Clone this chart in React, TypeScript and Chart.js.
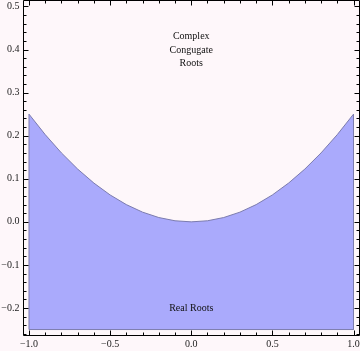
import React, { useEffect, useRef } from "react";
import { Chart, registerables } from "chart.js";

Chart.register(...registerables);

const curveX = [-1, -0.9, -0.8, -0.7, -0.6, -0.5, -0.4, -0.3, -0.2, -0.1, 0, 0.1, 0.2, 0.3, 0.4, 0.5, 0.6, 0.7, 0.8, 0.9, 1];
const curveY = [0.25, 0.2025, 0.16, 0.1225, 0.09, 0.0625, 0.04, 0.0225, 0.01, 0.0025, 0, 0.0025, 0.01, 0.0225, 0.04, 0.0625, 0.09, 0.1225, 0.16, 0.2025, 0.25];
const regionBottom = -0.25;

const xTickValues = [-1, -0.5, 0, 0.5, 1];
const yTickValues = [-0.2, -0.1, 0, 0.1, 0.2, 0.3, 0.4, 0.5];
const xMinorStep = 0.1;
const yMinorStep = 0.02;

const topLabelLines = ["Complex", "Congugate", "Roots"];
const topLabelX = 0;
const topLabelY = [0.43, 0.399, 0.367];
const bottomLabel = "Real Roots";
const bottomLabelX = 0;
const bottomLabelY = -0.202;

const fmt = (v: number) => {
  const s = Math.abs(v) < 1e-9 ? "0.0" : v.toFixed(1);
  return s.replace("-", "\u2212");
};

export default function App() {
  const ref = useRef<HTMLCanvasElement | null>(null);
  useEffect(() => {
    if (!ref.current) return;
    const polygon = [
      { x: curveX[0], y: regionBottom },
      ...curveX.map((x, i) => ({ x, y: curveY[i] })),
      { x: curveX[curveX.length - 1], y: regionBottom },
      { x: curveX[0], y: regionBottom },
    ];

    const bgPlugin = {
      id: "bg",
      beforeDraw(chart: any) {
        const c = chart.ctx;
        c.save();
        c.fillStyle = "#fef7fa";
        c.fillRect(0, 0, chart.width, chart.height);
        c.restore();
      },
    };

    const framePlugin = {
      id: "frame",
      afterDatasetsDraw(chart: any) {
        const c = chart.ctx;
        const a = chart.chartArea;
        const xs = chart.scales.x;
        const ys = chart.scales.y;
        const L = Math.round(a.left) + 0.5;
        const R = Math.round(a.right) - 0.5;
        const T = Math.round(a.top) + 0.5;
        const B = Math.round(a.bottom) - 0.5;
        c.save();
        c.strokeStyle = "#000";
        c.lineWidth = 1;
        c.beginPath();
        c.rect(L, T, R - L, B - T);
        for (let v = -1; v <= 1.0001; v += xMinorStep) {
          const vv = Math.round(v * 10) / 10;
          const major = xTickValues.some((t) => Math.abs(t - vv) < 1e-6);
          const len = major ? 5 : 3;
          const px = Math.round(xs.getPixelForValue(vv)) + 0.5;
          c.moveTo(px, B);
          c.lineTo(px, B - len);
          c.moveTo(px, T);
          c.lineTo(px, T + len);
        }
        for (let v = -0.26; v <= 0.5001; v += yMinorStep) {
          const vv = Math.round(v * 100) / 100;
          const major = yTickValues.some((t) => Math.abs(t - vv) < 1e-6);
          const len = major ? 5 : 3;
          const py = Math.round(ys.getPixelForValue(vv)) + 0.5;
          c.moveTo(L, py);
          c.lineTo(L + len, py);
          c.moveTo(R, py);
          c.lineTo(R - len, py);
        }
        c.stroke();

        c.fillStyle = "#111";
        c.font = "10px 'Liberation Serif', 'Times New Roman', serif";
        c.textAlign = "center";
        c.textBaseline = "middle";
        topLabelLines.forEach((t, i) => {
          c.fillText(t, xs.getPixelForValue(topLabelX), ys.getPixelForValue(topLabelY[i]));
        });
        c.fillText(bottomLabel, xs.getPixelForValue(bottomLabelX), ys.getPixelForValue(bottomLabelY));
        c.restore();
      },
    };

    const chart = new Chart(ref.current, {
      type: "scatter",
      data: {
        datasets: [
          {
            data: polygon,
            showLine: true,
            fill: "shape",
            backgroundColor: "rgb(170,170,252)",
            borderColor: "#7c7cae",
            borderWidth: 1,
            pointRadius: 0,
            tension: 0,
          } as any,
        ],
      },
      options: {
        animation: false,
        responsive: true,
        maintainAspectRatio: false,
        layout: { padding: 0 },
        plugins: { legend: { display: false }, tooltip: { enabled: false } },
        scales: {
          x: {
            type: "linear",
            min: -1.04,
            max: 1.04,
            grid: { display: false, drawTicks: false },
            border: { display: false },
            afterBuildTicks: (s: any) => {
              s.ticks = xTickValues.map((v) => ({ value: v }));
            },
            afterFit: (s: any) => {
              s.height = 15;
              s.paddingLeft = 0;
              s.paddingRight = 0;
              s.paddingTop = 0;
              s.paddingBottom = 0;
            },
            ticks: {
              padding: 2,
              color: "#222",
              maxRotation: 0,
              autoSkip: false,
              font: { family: "'Liberation Serif', 'Times New Roman', serif", size: 10 },
              callback: (v: any) => fmt(Number(v)),
            },
          },
          y: {
            type: "linear",
            min: -0.265,
            max: 0.515,
            grid: { display: false, drawTicks: false },
            border: { display: false },
            afterBuildTicks: (s: any) => {
              s.ticks = yTickValues.map((v) => ({ value: v }));
            },
            afterFit: (s: any) => {
              s.width = 22.5;
              s.paddingLeft = 0;
              s.paddingRight = 0;
              s.paddingTop = 0;
              s.paddingBottom = 0;
            },
            ticks: {
              padding: 3,
              color: "#222",
              autoSkip: false,
              font: { family: "'Liberation Serif', 'Times New Roman', serif", size: 10 },
              callback: (v: any) => fmt(Number(v)),
            },
          },
        },
      },
      plugins: [bgPlugin, framePlugin],
    });
    return () => chart.destroy();
  }, []);

  return (
    <div style={{ position: "fixed", left: 0, top: 0, width: 360, height: 351 }}>
      <canvas ref={ref} />
    </div>
  );
}
